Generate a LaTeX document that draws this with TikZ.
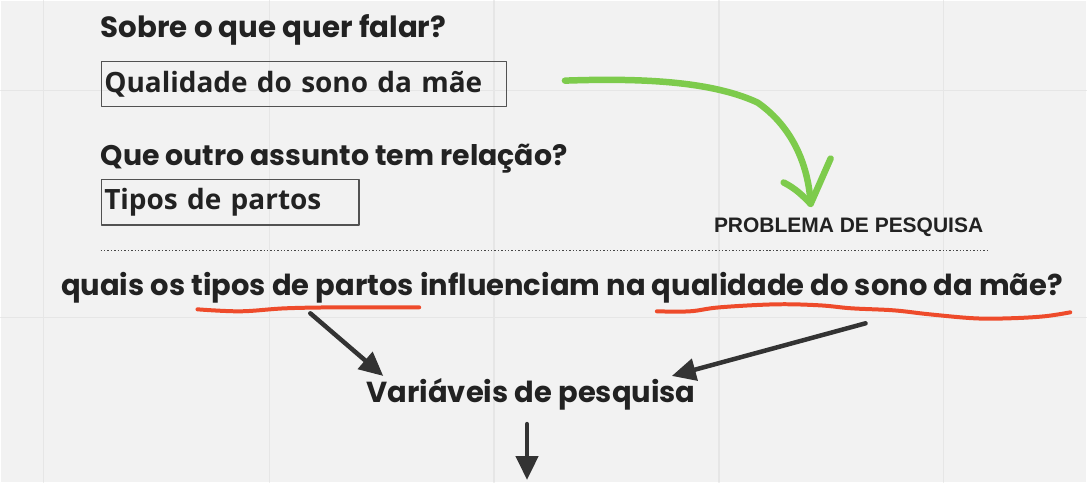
\documentclass[tikz,border=0pt]{standalone}
\usepackage{fontspec}
\usetikzlibrary{arrows.meta,calc}
\newfontfamily\fpop{Poppins}
\newfontfamily\fopen{Open Sans}
\newfontfamily\farial{Liberation Sans}
\definecolor{fundo}{HTML}{F2F2F2}
\definecolor{grade}{HTML}{E6E6E6}
\definecolor{tinta}{HTML}{222222}
\definecolor{verde}{HTML}{7DCB4C}
\definecolor{vermelho}{HTML}{EE4B2B}
\definecolor{seta}{HTML}{333333}
\begin{document}
\begin{tikzpicture}[x=1pt, y=-1pt, line join=round, line cap=round,
	titulo/.style={anchor=base west, inner sep=0, text=tinta, font=\fpop\bfseries\fontsize{29.3}{33}\selectfont},
	caixa/.style={draw=seta!85, line width=1.3pt, anchor=north west, inner xsep=3pt, inner ysep=0, align=left, text=tinta, font=\fopen\bfseries\fontsize{28}{32}\selectfont},
	frase/.style={inner sep=0, text=tinta, font=\fpop\bfseries\fontsize{29}{33}\selectfont},
	sublinha/.style={vermelho, line width=4pt},
	setapreta/.style={seta, line width=4.5pt, -{Triangle[length=24pt, width=22pt]}}]
	%Fundo e grade
	\fill[fundo] (0,0) rectangle (1087,482);
	\foreach \x in {43,269,494,719,944}
	\draw[grade, line width=1.5pt] (\x,0)--(\x,482);
	\foreach \y in {90,317}
	\draw[grade, line width=1.5pt] (0,\y)--(1087,\y);
	%Perguntas e respostas
	\node[titulo] (t1) at (100,37) {Sobre o que quer falar?};
	\node[caixa, minimum width=406pt, minimum height=45pt, text width=400pt] (box1) at (100,60) {Qualidade do sono da mãe};
	\node[titulo, font=\fpop\bfseries\fontsize{28.4}{33}\selectfont] (t2) at (100,165) {Que outro assunto tem relação?};
	\node[caixa, minimum width=258pt, minimum height=46pt, text width=252pt] (box2) at (100,178) {Tipos de partos};
	%Problema de pesquisa
	\node[inner sep=0, text=tinta, font=\farial\bfseries\fontsize{21}{24}\selectfont] (prob) at (849,227) {PROBLEMA DE PESQUISA};
	\draw[seta!90, line width=1.4pt, dash pattern=on 1.4pt off 2pt, line cap=butt] (100,250)--(990,250);
	\node[frase, anchor=base] (perg) at (562,295) {quais os tipos de partos influenciam na qualidade do sono da mãe?};
	%Seta verde
	\coordinate (g0) at (565,80);
	\coordinate (g1) at ($(prob.north)+(-38,-14)$);
	\draw[verde, line width=6.5pt] (g0) .. controls (650,77) and (715,82) .. (758,102)
		.. controls (795,128) and (809,168) .. (g1);
	\draw[verde, line width=6.5pt] (784,182) .. controls (796,188) and (804,196) .. (g1) -- (831,158);
	%Sublinhados
	\draw[sublinha] plot[smooth, tension=.6] coordinates {(197,309) (240,311) (285,308) (340,307) (419,307)};
	\draw[sublinha] plot[smooth, tension=.6] coordinates {(657,311) (690,311) (720,307) (776,304) (820,305) (852,308) (894,310) (930,314) (975,318) (1010,318) (1045,316) (1071,312)};
	%Variaveis de pesquisa
	\node[frase, anchor=base] (var) at (531,402) {Variáveis de pesquisa};
	\coordinate (u1) at (310,313);
	\coordinate (u2) at (866,323);
	\coordinate (fim) at ($(var.south)+(-4,70)$);
	\draw[setapreta] (u1) -- ([xshift=17pt,yshift=2pt]var.north west);
	\draw[setapreta] (u2) -- ([xshift=-24pt,yshift=2pt]var.north east);
	\draw[setapreta] ([xshift=-4pt,yshift=-14pt]var.south) -- (fim);
\end{tikzpicture}
\end{document}
